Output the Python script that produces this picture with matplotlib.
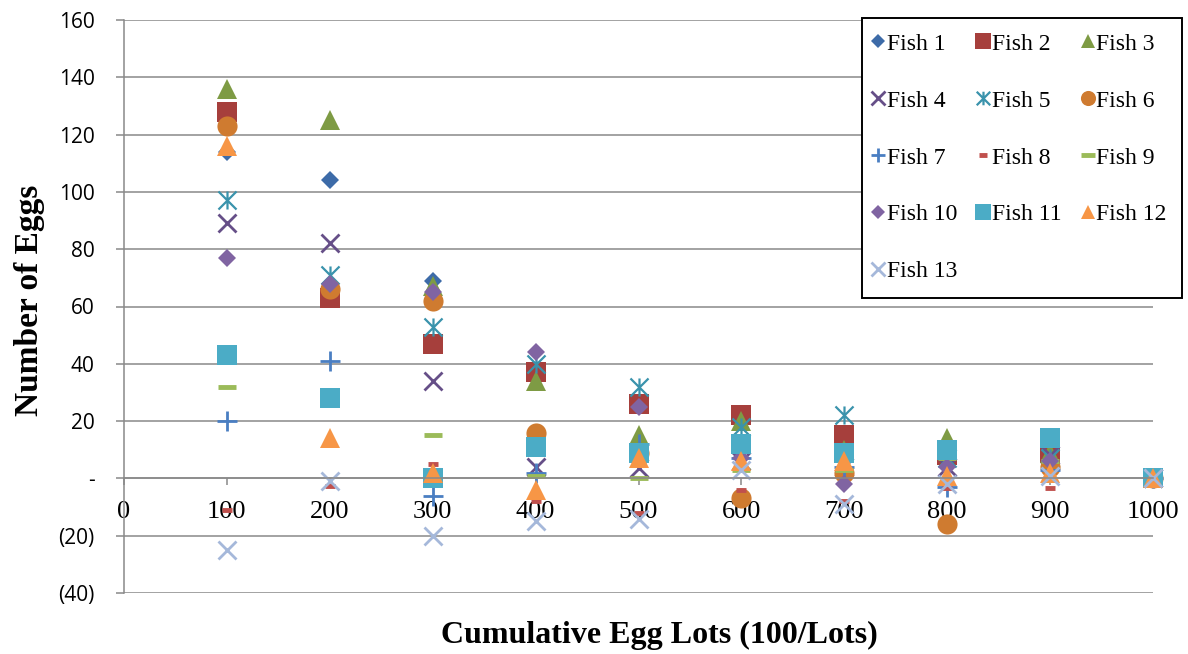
import matplotlib
matplotlib.use("Agg")
import matplotlib.pyplot as plt
from matplotlib.path import Path
from matplotlib.ticker import FuncFormatter, MultipleLocator

# cumulative egg lots and eggs counted per fish
lots = [100, 200, 300, 400, 500, 600, 700, 800, 900, 1000]

fish1 = [114, 104, 69, 37, 26, 21, 14, 8, 8, 0]
fish2 = [128, 63, 47, 37, 26, 22, 15, 8, 9, 0]
fish3 = [136, 125, 67, 34, 15, 20, 10, 14, 9, 0]
fish4 = [89, 82, 34, 4, 3.5, 6, 4, 4, 8, 0]
fish5 = [97, 71, 53, 40, 32, 18, 22, 7, 7, 0]
fish6 = [123, 66, 62, 16, 9, -7, 2, -16, 4, 0]
fish7 = [20, 41, -6, 2, 12, 7, 4, -3, 3, 0]
fish8 = [-11, -2.5, 5, -8, -12, -4, -8, -3.5, -3.5, 0]
fish9 = [32, 28, 15, 1, 0, 3, 3, 7, 6, 0]
fish10 = [77, 68, 65, 44, 25, 7, -2, 4, 6, 0]
fish11 = [43, 28, 0, 11, 9, 12, 9, 10, 14, 0]
fish12 = [116, 14, 2, -4, 7, 6, 6, 1, 2, 0]
fish13 = [-25, -1, -20, -15, -14, 3, -9, -2, 1, 0]

series = [fish1, fish2, fish3, fish4, fish5, fish6, fish7,
          fish8, fish9, fish10, fish11, fish12, fish13]
names = [f"Fish {i}" for i in range(1, 14)]

# Excel-like star: vertical bar plus an x
star = Path([(0, -1), (0, 1), (-1, -1), (1, 1), (-1, 1), (1, -1)],
            [Path.MOVETO, Path.LINETO] * 3)

styles = [
    dict(marker="D", ms=9.5, color="#3D6BA8", mew=0),
    dict(marker="s", ms=14.5, color="#A63F3C", mew=0),
    dict(marker="^", ms=14, color="#7E9B44", mew=0),
    dict(marker="x", ms=13, color="#664F88", mew=2),
    dict(marker=star, ms=13, color="#3A93AC", mew=1.6),
    dict(marker="o", ms=14.5, color="#CF7B30", mew=0),
    dict(marker="+", ms=14, color="#4A7EC2", mew=2),
    dict(marker="_", ms=7, color="#C0504D", mew=3.5),
    dict(marker="_", ms=13.5, color="#9BBB59", mew=3.5),
    dict(marker="D", ms=9.5, color="#8064A2", mew=0),
    dict(marker="s", ms=14.5, color="#4BACC6", mew=0),
    dict(marker="^", ms=14, color="#F79646", mew=0),
    dict(marker="x", ms=13, color="#A5B8DA", mew=2),
]

grid_col = "#898989"

fig = plt.figure(figsize=(11.88, 6.54), dpi=100)
ax = fig.add_axes([124 / 1188, 1 - 593 / 654, (1153 - 124) / 1188, (593 - 20) / 654])

handles = []
for ys, name, st in zip(series, names, styles):
    h, = ax.plot(lots, ys, linestyle="none", marker=st["marker"],
                 markersize=st["ms"], color=st["color"],
                 markeredgecolor=st["color"], markeredgewidth=st["mew"],
                 label=name, clip_on=False)
    handles.append(h)

ax.set_xlim(0, 1000)
ax.set_ylim(-40, 160)
ax.xaxis.set_major_locator(MultipleLocator(100))
ax.yaxis.set_major_locator(MultipleLocator(20))


def accounting(v, pos):
    if abs(v) < 1e-9:
        return "-"
    if v < 0:
        return f"({abs(v):.0f})"
    return f"{v:.0f}"


ax.yaxis.set_major_formatter(FuncFormatter(accounting))

ax.set_axisbelow(True)
ax.yaxis.grid(True, color=grid_col, linewidth=1.1)
for side in ("top", "right"):
    ax.spines[side].set_visible(False)
ax.spines["bottom"].set_position(("data", 0))
ax.spines["bottom"].set_color(grid_col)
ax.spines["bottom"].set_linewidth(1.1)
ax.spines["left"].set_color(grid_col)
ax.spines["left"].set_linewidth(1.1)

ax.tick_params(axis="x", direction="out", length=5, width=1.1, color=grid_col,
               pad=11, labelsize=19)
ax.tick_params(axis="y", direction="out", length=6, width=1.1, color=grid_col,
               pad=15, labelsize=15)
for lab in ax.get_xticklabels():
    lab.set_fontfamily("Liberation Serif")
for lab in ax.get_yticklabels():
    lab.set_fontfamily("Open Sans")

fig.text(443 / 1188 + (876 - 443) / 2 / 1188, 1 - 635 / 654,
         "Cumulative Egg Lots (100/Lots)", ha="center", va="center",
         family="Liberation Serif", weight="bold", fontsize=23)
fig.text(30 / 1188, 1 - 300 / 654, "Number of Eggs", rotation=90,
         ha="center", va="center", family="Liberation Serif",
         weight="bold", fontsize=24)

# legend rows read across, so feed matplotlib column by column
order = [0, 3, 6, 9, 12, 1, 4, 7, 10, 2, 5, 8, 11]
leg = fig.legend([handles[i] for i in order], [names[i] for i in order],
                 ncol=3, loc="upper left",
                 bbox_to_anchor=(862 / 1188, 1 - 18 / 654),
                 prop={"family": "Liberation Serif", "size": 17},
                 frameon=True, fancybox=False, framealpha=1,
                 edgecolor="black", markerscale=0.75,
                 handlelength=0.1, handletextpad=0.32, columnspacing=1.05,
                 labelspacing=1.5, borderpad=0.64, borderaxespad=0)
leg.get_frame().set_linewidth(1.4)

fig.savefig("out.png", dpi=100)
